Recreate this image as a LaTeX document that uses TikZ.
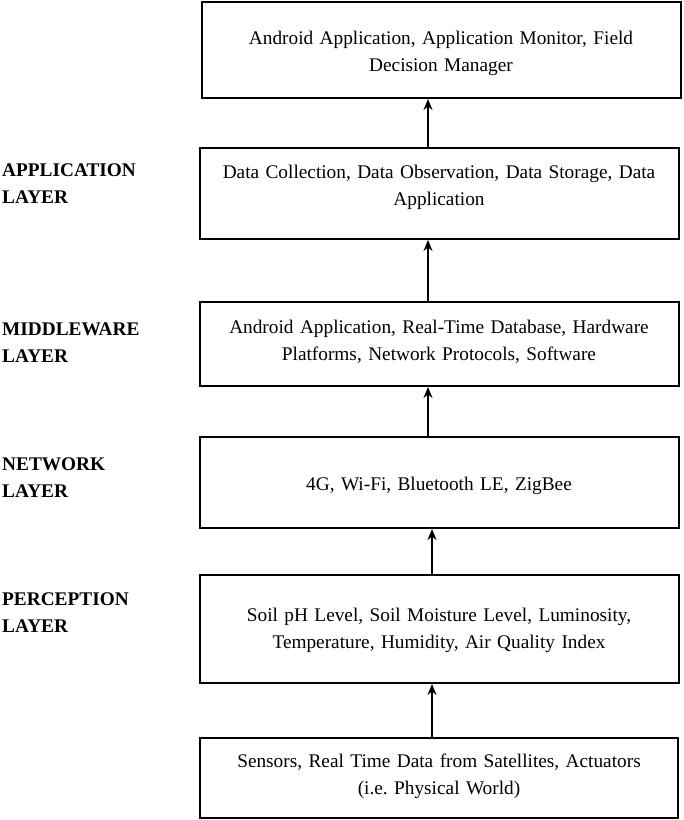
\documentclass[tikz,border=0pt]{standalone}
\usepackage{fontspec}
\setmainfont{Liberation Serif}
\usetikzlibrary{arrows.meta}
\frenchspacing
\begin{document}
\begin{tikzpicture}[x=1pt,y=-1pt,
  boxstyle/.style={draw=black,line width=1.8pt,fill=white},
  boxtext/.style={align=center,font=\fontsize{19.3}{27}\selectfont,text width=474pt},
  laytext/.style={align=left,anchor=north west,font=\bfseries\fontsize{19.3}{26.5}\selectfont,inner sep=0pt},
  arr/.style={line width=2.2pt,-{Stealth[length=11pt,width=9pt]}}]
\useasboundingbox (0,0) rectangle (684,820);
% boxes
\draw[boxstyle] (202,2) rectangle (681,98);
\draw[boxstyle] (200,148) rectangle (679,239);
\draw[boxstyle] (200,302) rectangle (679,386);
\draw[boxstyle] (200,437) rectangle (679,528);
\draw[boxstyle] (200,575) rectangle (679,683);
\draw[boxstyle] (200,738) rectangle (678,818);
% box texts
\node[boxtext] (t1) at (441,53) {Android Application, Application Monitor, Field\\Decision Manager};
\node[boxtext] (t2) at (439,187) {Data Collection, Data Observation, Data Storage, Data\\Application};
\node[boxtext] (t3) at (439,342) {Android Application, Real-Time Database, Hardware\\Platforms, Network Protocols, Software};
\node[boxtext] (t4) at (439,486) {4G, Wi-Fi, Bluetooth LE, ZigBee};
\node[boxtext] (t5) at (439,630) {Soil pH Level, Soil Moisture Level, Luminosity,\\Temperature, Humidity, Air Quality Index};
\node[boxtext] (t6) at (439,776) {Sensors, Real Time Data from Satellites, Actuators\\(i.e. Physical World)};
% coordinates for arrows
\coordinate (a1s) at (428,148); \coordinate (a1e) at (428,99);
\coordinate (a2s) at (428,302); \coordinate (a2e) at (428,240);
\coordinate (a3s) at (428,437); \coordinate (a3e) at (428,387);
\coordinate (a4s) at (432,575); \coordinate (a4e) at (432,529);
\coordinate (a5s) at (432,738); \coordinate (a5e) at (432,684);
\draw[arr] (a1s) -- (a1e);
\draw[arr] (a2s) -- (a2e);
\draw[arr] (a3s) -- (a3e);
\draw[arr] (a4s) -- (a4e);
\draw[arr] (a5s) -- (a5e);
% layer labels
\node[laytext] (l1) at (2,164) {APPLICATION\\LAYER};
\node[laytext] (l2) at (2,323) {MIDDLEWARE\\LAYER};
\node[laytext] (l3) at (2,458) {NETWORK\\LAYER};
\node[laytext] (l4) at (2,593) {PERCEPTION\\LAYER};
\end{tikzpicture}
\end{document}
